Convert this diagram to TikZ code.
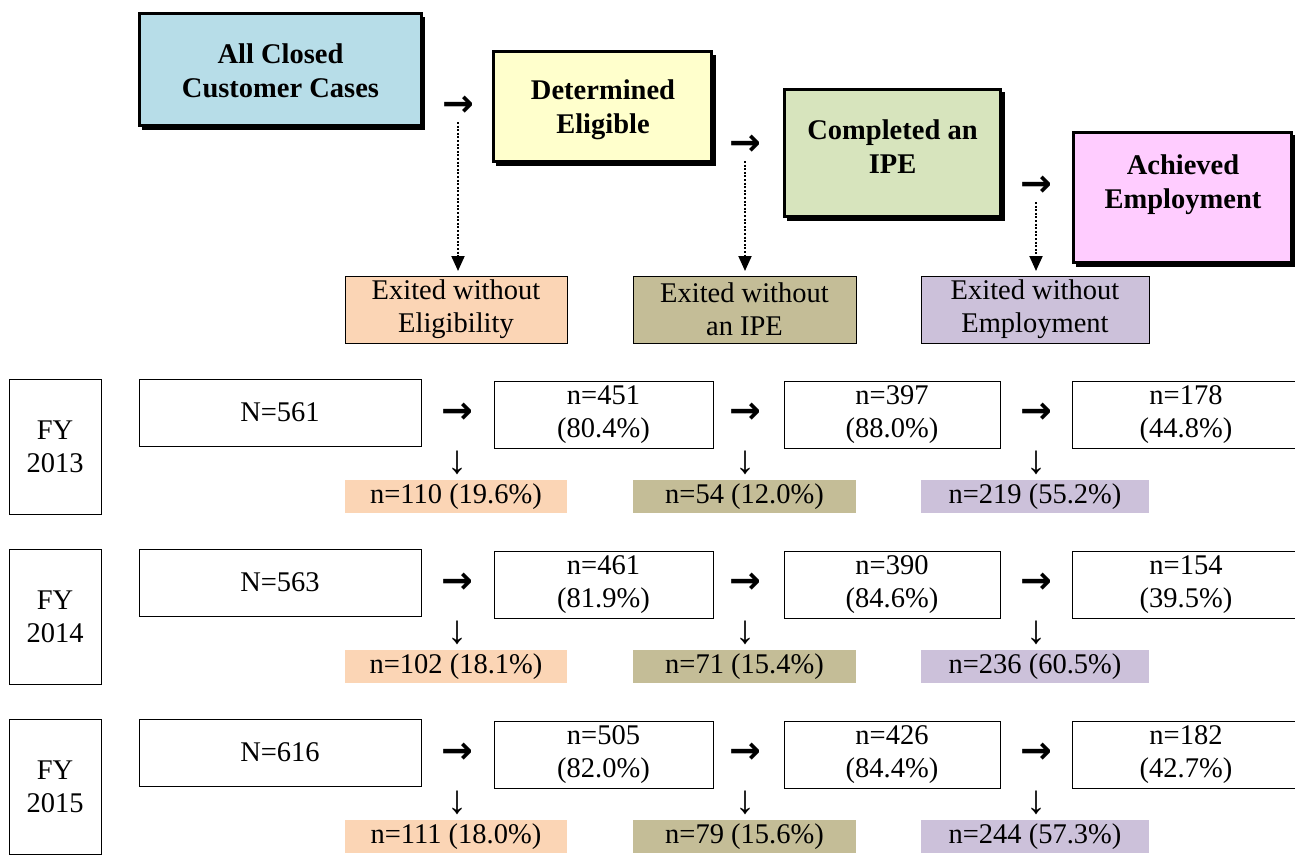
\documentclass[tikz,border=0pt]{standalone}
\usepackage{fontspec}
\setmainfont{Liberation Serif}
\newfontfamily\arrowfont{DejaVu Sans}
\usetikzlibrary{arrows.meta}

\definecolor{cBlue}{HTML}{B7DDE8}
\definecolor{cYellow}{HTML}{FFFFCC}
\definecolor{cGreen}{HTML}{D7E4BD}
\definecolor{cPink}{HTML}{FFCCFF}
\definecolor{cPeach}{HTML}{FBD5B5}
\definecolor{cKhaki}{HTML}{C4BD97}
\definecolor{cLilac}{HTML}{CCC1DA}

\begin{document}
\begin{tikzpicture}[x=1pt,y=-1pt,
  every node/.style={font=\fontsize{28.5}{33}\selectfont, inner sep=0pt, outer sep=0pt},
  headbox/.style={draw, line width=3pt, rectangle},
  headtext/.style={align=center, font=\fontsize{28.5}{34}\selectfont\bfseries},
  exitbox/.style={draw, line width=0.9pt, rectangle, align=center, minimum height=67pt},
  rowbox/.style={draw, line width=0.9pt, rectangle, align=center, minimum height=67pt},
  fybox/.style={draw, line width=0.9pt, rectangle, align=center, minimum width=92pt, minimum height=135pt},
  resbar/.style={rectangle, minimum height=33pt, align=center},
  rarrow/.style={font=\fontsize{38}{38}\selectfont\arrowfont\bfseries},
  darrow/.style={font=\fontsize{40}{40}\selectfont},
  dotline/.style={line width=2pt, dash pattern=on 2pt off 1.6pt, -{Triangle[width=13pt,length=15pt]}, shorten >=5pt},
]
\useasboundingbox (0,0) rectangle (1295,855);

% header boxes (with shadow)
\fill[black] (141.5,16.5) rectangle (424.5,129.5);
\node[headbox, fill=cBlue, minimum width=282pt, minimum height=112pt] (h1) at (280.5,69.5) {};
\node[headtext] (t1) at (280.5,71) {All Closed\\Customer Cases};

\fill[black] (495.5,54.5) rectangle (716,166);
\node[headbox, fill=cYellow, minimum width=218pt, minimum height=110pt] (h2) at (602.5,106.5) {};
\node[headtext] (t2) at (603,110) {Determined\\Eligible};

\fill[black] (786.5,92) rectangle (1005,221);
\node[headbox, fill=cGreen, minimum width=216pt, minimum height=127pt] (h3) at (892.5,153) {};
\node[headtext] (t3) at (892.5,147) {Completed an\\IPE};

\fill[black] (1075.5,135) rectangle (1296,267);
\node[headbox, fill=cPink, minimum width=218pt, minimum height=130pt] (h4) at (1182,197.5) {};
\node[headtext] (t4) at (1183,185) {Achieved\\Employment};

% exit boxes
\node[exitbox, fill=cPeach, minimum width=222pt] (e1) at (456,309.5) {Exited without\\Eligibility};
\node[exitbox, fill=cKhaki, minimum width=223pt] (e2) at (744.5,309.5) {Exited without\\an IPE};
\node[exitbox, fill=cLilac, minimum width=228pt] (e3) at (1035,309.5) {Exited without\\Employment};

% top arrows
\node[rarrow] (ta1) at (458,106) {→};
\node[rarrow] (ta2) at (745,145) {→};
\node[rarrow] (ta3) at (1036,186) {→};
\draw[dotline] ([yshift=-16pt]ta1.center) -- (ta1.center |- e1.north);
\draw[dotline] ([yshift=-16pt]ta2.center) -- (ta2.center |- e2.north);
\draw[dotline] ([yshift=-16pt]ta3.center) -- (ta3.center |- e3.north);

% rows
\foreach \r/\yr/\N/\a/\pa/\b/\pb/\c/\pc/\ea/\pea/\eb/\peb/\ec/\pec in {
  0/2013/561/451/80.4/397/88.0/178/44.8/110/19.6/54/12.0/219/55.2,
  1/2014/563/461/81.9/390/84.6/154/39.5/102/18.1/71/15.4/236/60.5,
  2/2015/616/505/82.0/426/84.4/182/42.7/111/18.0/79/15.6/244/57.3} {
  \pgfmathsetmacro\dy{170*\r}
  \node[fybox] (fy\r) at (55,{446.5+\dy}) {FY\\\yr};
  \node[rowbox, minimum width=282pt] (b0\r) at (280,{412.5+\dy}) {N=\N};
  \node[rowbox, minimum width=219pt] (b1\r) at (603.5,{414.5+\dy}) {n=\a\\(\pa\%)};
  \node[rowbox, minimum width=216pt] (b2\r) at (892,{414.5+\dy}) {n=\b\\(\pb\%)};
  \node[rowbox, minimum width=240pt, text width=222pt] (b3\r) at (1192,{414.5+\dy}) {\hspace*{-12pt}n=\c\\\hspace*{-12pt}(\pc\%)};
  \node[rarrow] (ra\r) at (457,{413.5+\dy}) {→};
  \node[rarrow] (rb\r) at (745,{413.5+\dy}) {→};
  \node[rarrow] (rc\r) at (1036,{413.5+\dy}) {→};
  \node[darrow] (da\r) at (457,{463+\dy}) {↓};
  \node[darrow] (db\r) at (745,{463+\dy}) {↓};
  \node[darrow] (dc\r) at (1036,{463+\dy}) {↓};
  \node[resbar, fill=cPeach, minimum width=222pt] (ra\r x) at (456,{496.5+\dy}) {n=\ea\ (\pea\%)};
  \node[resbar, fill=cKhaki, minimum width=223pt] (rb\r x) at (744.5,{496.5+\dy}) {n=\eb\ (\peb\%)};
  \node[resbar, fill=cLilac, minimum width=228pt] (rc\r x) at (1035,{496.5+\dy}) {n=\ec\ (\pec\%)};
}
\end{tikzpicture}
\end{document}
